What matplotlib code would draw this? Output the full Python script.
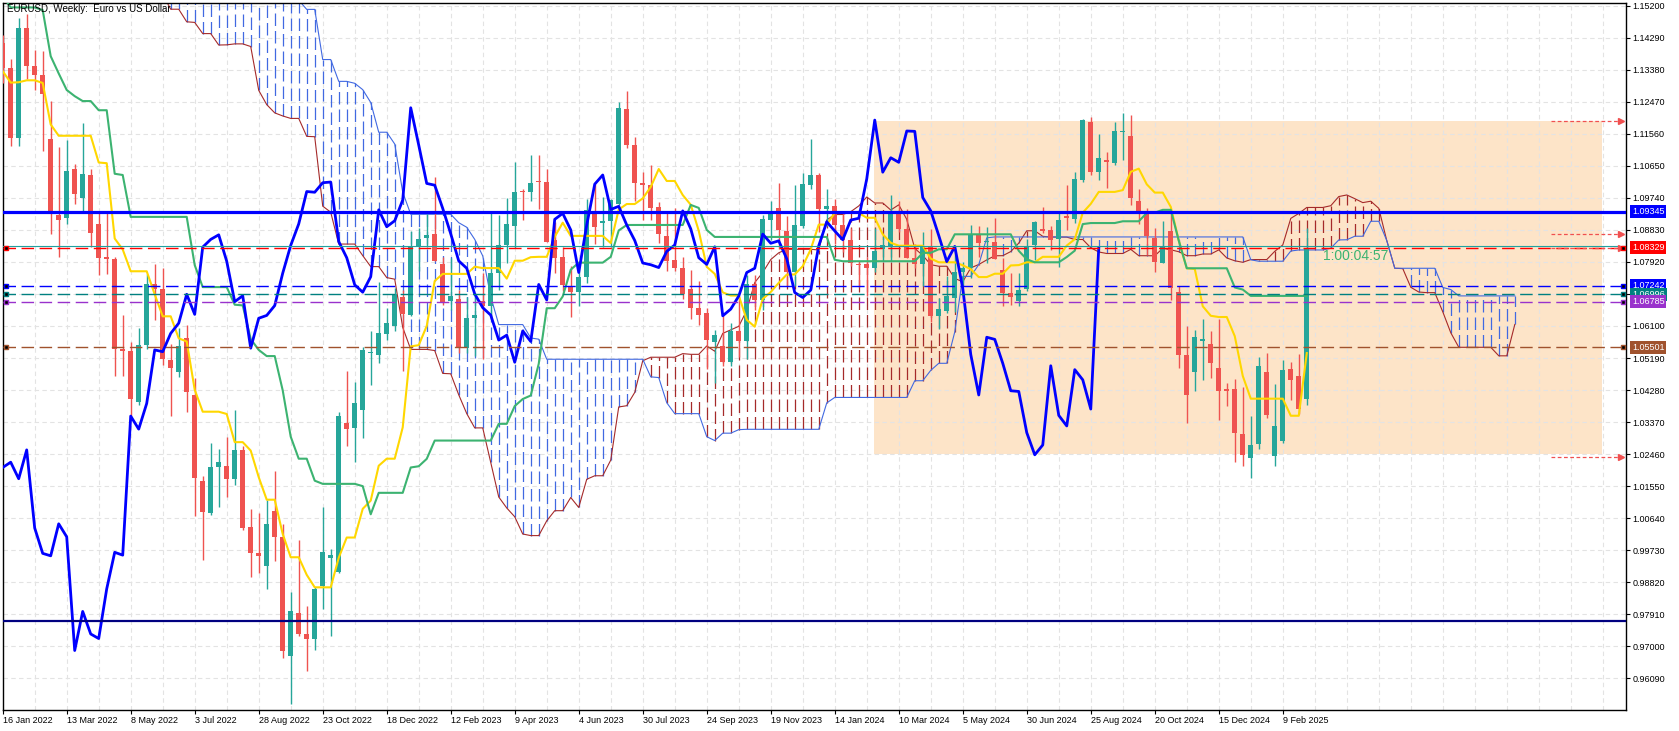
import numpy as np
import matplotlib
matplotlib.use("Agg")
import matplotlib.pyplot as plt
from matplotlib.patches import Rectangle
from matplotlib.transforms import blended_transform_factory

plt.rcParams['font.family'] = ['Liberation Sans', 'DejaVu Sans']

# EURUSD weekly bars, first bar = week of 16 Jan 2022
opens = [
    1.1413, 1.1344, 1.1145, 1.1456, 1.1349, 1.1322, 1.1140, 1.0925, 1.0918, 1.1055,
    1.0975, 1.1038, 1.0900, 1.0805, 1.0799, 1.0544, 1.0539, 1.0395, 1.0557, 1.0730,
    1.0716, 1.0513, 1.0480, 1.0575, 1.0415, 1.0171, 1.0078, 1.0210, 1.0212, 1.0174,
    1.0258, 1.0039, 0.9965, 0.9927, 1.0085, 1.0011, 0.9671, 0.9794, 0.9735, 0.9722,
    0.9871, 0.9952, 0.9910, 1.0334, 1.0320, 1.0372, 1.0532, 1.0528, 1.0587, 1.0611,
    1.0693, 1.0640, 1.0836, 1.0860, 1.0870, 1.0787, 1.0681, 1.0687, 1.0547, 1.0632,
    1.0680, 1.0668, 1.0760, 1.0840, 1.0895, 1.0993, 1.0990, 1.1020, 1.1020, 1.0854,
    1.0805, 1.0721, 1.0706, 1.0750, 1.0930, 1.0902, 1.0909, 1.0958, 1.1226, 1.1124,
    1.1015, 1.1010, 1.0947, 1.0866, 1.0798, 1.0774, 1.0714, 1.0662, 1.0648, 1.0565,
    1.0553, 1.0509, 1.0596, 1.0566, 1.0728, 1.0684, 1.0910, 1.0944, 1.0880, 1.0762,
    1.0894, 1.1010, 1.1039, 1.0941, 1.0950, 1.0897, 1.0853, 1.0785, 1.0785, 1.0776,
    1.0829, 1.0838, 1.0935, 1.0886, 1.0804, 1.0785, 1.0835, 1.0638, 1.0654, 1.0690,
    1.0762, 1.0774, 1.0870, 1.0848, 1.0850, 1.0769, 1.0704, 1.0681, 1.0716, 1.0840,
    1.0886, 1.0883, 1.0857, 1.0922, 1.0914, 1.1025, 1.1189, 1.1047, 1.1082, 1.1072,
    1.1160, 1.1150, 1.0965, 1.0933, 1.0861, 1.0790, 1.0880, 1.0706, 1.0527, 1.0478,
    1.0566, 1.0558, 1.0490, 1.0430, 1.0431, 1.0303, 1.0236, 1.0275, 1.0480, 1.0242,
    1.0283, 1.0488, 1.0468, 1.0403,
]
highs = [
    1.1437, 1.1369, 1.1484, 1.1495, 1.1395, 1.1391, 1.1248, 1.1119, 1.1138, 1.1070,
    1.1186, 1.1055, 1.0930, 1.0930, 1.0805, 1.0640, 1.0565, 1.0604, 1.0757, 1.0787,
    1.0774, 1.0560, 1.0604, 1.0614, 1.0463, 1.0185, 1.0278, 1.0260, 1.0295, 1.0370,
    1.0270, 1.0090, 1.0080, 1.0117, 1.0199, 1.0048, 0.9853, 1.0001, 0.9814, 0.9868,
    1.0095, 0.9977, 1.0367, 1.0482, 1.0451, 1.0550, 1.0597, 1.0736, 1.0660, 1.0717,
    1.0713, 1.0880, 1.0887, 1.0929, 1.1033, 1.0805, 1.0804, 1.0712, 1.0691, 1.0695,
    1.0760, 1.0930, 1.0926, 1.0973, 1.1075, 1.1000, 1.1095, 1.1097, 1.1056, 1.0905,
    1.0835, 1.0780, 1.0788, 1.0971, 1.1012, 1.0977, 1.0970, 1.1247, 1.1278, 1.1148,
    1.1048, 1.1068, 1.0963, 1.0932, 1.0945, 1.0807, 1.0768, 1.0737, 1.0660, 1.0600,
    1.0641, 1.0618, 1.0695, 1.0756, 1.0756, 1.0926, 1.0965, 1.1017, 1.0923, 1.1010,
    1.1044, 1.1140, 1.1046, 1.0998, 1.0970, 1.0932, 1.0888, 1.0795, 1.0806, 1.0888,
    1.0865, 1.0981, 1.0964, 1.0942, 1.0843, 1.0878, 1.0885, 1.0690, 1.0753, 1.0831,
    1.0791, 1.0897, 1.0895, 1.0890, 1.0916, 1.0802, 1.0761, 1.0761, 1.0856, 1.0908,
    1.0947, 1.0895, 1.0930, 1.1011, 1.1047, 1.1198, 1.1204, 1.1155, 1.1105, 1.1189,
    1.1214, 1.1210, 1.0998, 1.0944, 1.0887, 1.0908, 1.0937, 1.0723, 1.0611, 1.0599,
    1.0630, 1.0596, 1.0630, 1.0447, 1.0459, 1.0438, 1.0354, 1.0523, 1.0533, 1.0444,
    1.0513, 1.0509, 1.0530, 1.0889,
]
lows = [
    1.1301, 1.1121, 1.1121, 1.1311, 1.1280, 1.1106, 1.0870, 1.0806, 1.0899, 1.0958,
    1.0938, 1.0834, 1.0754, 1.0759, 1.0469, 1.0469, 1.0345, 1.0386, 1.0545, 1.0627,
    1.0500, 1.0355, 1.0464, 1.0366, 1.0071, 0.9946, 1.0074, 1.0095, 1.0123, 1.0159,
    1.0031, 0.9898, 0.9908, 0.9863, 0.9942, 0.9668, 0.9536, 0.9730, 0.9631, 0.9690,
    0.9807, 0.9730, 0.9908, 1.0268, 1.0224, 1.0291, 1.0443, 1.0505, 1.0571, 1.0597,
    1.0483, 1.0638, 1.0766, 1.0835, 1.0795, 1.0669, 1.0655, 1.0533, 1.0533, 1.0524,
    1.0516, 1.0630, 1.0713, 1.0788, 1.0831, 1.0910, 1.0965, 1.0942, 1.0848, 1.0760,
    1.0710, 1.0635, 1.0667, 1.0732, 1.0844, 1.0834, 1.0834, 1.0955, 1.1115, 1.0966,
    1.0912, 1.0912, 1.0845, 1.0766, 1.0766, 1.0686, 1.0631, 1.0613, 1.0488, 1.0448,
    1.0495, 1.0496, 1.0522, 1.0516, 1.0656, 1.0656, 1.0853, 1.0828, 1.0723, 1.0723,
    1.0888, 1.1000, 1.0877, 1.0895, 1.0844, 1.0821, 1.0780, 1.0722, 1.0695, 1.0762,
    1.0796, 1.0795, 1.0876, 1.0802, 1.0776, 1.0724, 1.0622, 1.0601, 1.0648, 1.0650,
    1.0723, 1.0745, 1.0805, 1.0788, 1.0801, 1.0668, 1.0671, 1.0666, 1.0710, 1.0797,
    1.0874, 1.0825, 1.0778, 1.0882, 1.0904, 1.1020, 1.1039, 1.1026, 1.1001, 1.1067,
    1.1082, 1.0954, 1.0900, 1.0811, 1.0764, 1.0789, 1.0683, 1.0491, 1.0334, 1.0424,
    1.0456, 1.0462, 1.0343, 1.0384, 1.0225, 1.0213, 1.0177, 1.0261, 1.0348, 1.0211,
    1.0278, 1.0400, 1.0359, 1.0386,
]
closes = [
    1.1344, 1.1145, 1.1456, 1.1349, 1.1322, 1.1268, 1.0929, 1.0910, 1.1050, 1.0984,
    1.1042, 1.0875, 1.0803, 1.0799, 1.0544, 1.0540, 1.0402, 1.0556, 1.0730, 1.0716,
    1.0516, 1.0490, 1.0552, 1.0423, 1.0179, 1.0081, 1.0208, 1.0223, 1.0176, 1.0258,
    1.0036, 0.9964, 0.9957, 1.0048, 1.0011, 0.9688, 0.9799, 0.9735, 0.9722, 0.9863,
    0.9967, 0.9959, 1.0354, 1.0317, 1.0390, 1.0542, 1.0537, 1.0589, 1.0618, 1.0700,
    1.0643, 1.0834, 1.0856, 1.0869, 1.0794, 1.0679, 1.0696, 1.0547, 1.0632, 1.0640,
    1.0668, 1.0760, 1.0839, 1.0900, 1.0992, 1.0990, 1.1017, 1.1019, 1.0850, 1.0804,
    1.0727, 1.0706, 1.0750, 1.0940, 1.0892, 1.0909, 1.0968, 1.1230, 1.1124, 1.1015,
    1.1010, 1.0944, 1.0872, 1.0795, 1.0774, 1.0701, 1.0662, 1.0641, 1.0570, 1.0584,
    1.0507, 1.0596, 1.0566, 1.0728, 1.0684, 1.0913, 1.0930, 1.0883, 1.0762, 1.0897,
    1.1013, 1.1039, 1.0941, 1.0950, 1.0897, 1.0853, 1.0789, 1.0784, 1.0776, 1.0822,
    1.0840, 1.0937, 1.0886, 1.0804, 1.0785, 1.0835, 1.0639, 1.0658, 1.0695, 1.0762,
    1.0774, 1.0871, 1.0845, 1.0852, 1.0801, 1.0705, 1.0691, 1.0712, 1.0838, 1.0906,
    1.0880, 1.0855, 1.0911, 1.0916, 1.1028, 1.1195, 1.1047, 1.1088, 1.1075, 1.1164,
    1.1163, 1.0975, 1.0937, 1.0867, 1.0793, 1.0836, 1.0717, 1.0529, 1.0414, 1.0578,
    1.0572, 1.0504, 1.0426, 1.0424, 1.0307, 1.0244, 1.0272, 1.0497, 1.0356, 1.0326,
    1.0486, 1.0457, 1.0374, 1.0833,
]

# 78 earlier weeks (from 19 Jul 2020) needed by the Ichimoku lines
hist_high = [
    1.1660, 1.1909, 1.1916, 1.1866, 1.1966, 1.1927, 1.2011, 1.1917, 1.1882, 1.1872,
    1.1770, 1.1831, 1.1800, 1.1881, 1.1860, 1.1891, 1.1920, 1.1905, 1.1964, 1.2177,
    1.2167, 1.2273, 1.2272, 1.2310,
    1.2349, 1.2223, 1.2190, 1.2189, 1.2150, 1.2169, 1.2145, 1.2243, 1.2113, 1.1990,
    1.1990, 1.1943, 1.1800, 1.1927, 1.1995, 1.2116, 1.2150, 1.2170, 1.2181, 1.2245,
    1.2265, 1.2254, 1.2218, 1.2145, 1.1975, 1.1976, 1.1895, 1.1880, 1.1850, 1.1909,
    1.1900, 1.1805, 1.1802, 1.1808, 1.1909, 1.1883, 1.1849, 1.1755, 1.1720, 1.1640,
    1.1624, 1.1670, 1.1692, 1.1616, 1.1609, 1.1464, 1.1320, 1.1383, 1.1355, 1.1360,
    1.1360, 1.1386, 1.1369, 1.1482,
]
hist_low = [
    1.1410, 1.1630, 1.1696, 1.1711, 1.1753, 1.1762, 1.1780, 1.1753, 1.1737, 1.1612,
    1.1627, 1.1685, 1.1689, 1.1702, 1.1603, 1.1602, 1.1746, 1.1800, 1.1800, 1.1925,
    1.2057, 1.2110, 1.2130, 1.2196,
    1.2195, 1.2055, 1.2054, 1.2058, 1.1952, 1.2013, 1.2023, 1.2066, 1.1893, 1.1835,
    1.1873, 1.1762, 1.1704, 1.1760, 1.1870, 1.1991, 1.2016, 1.1986, 1.2052, 1.2136,
    1.2133, 1.2104, 1.2093, 1.1847, 1.1860, 1.1807, 1.1781, 1.1771, 1.1751, 1.1770,
    1.1753, 1.1705, 1.1664, 1.1690, 1.1793, 1.1801, 1.1700, 1.1683, 1.1563, 1.1529,
    1.1524, 1.1571, 1.1535, 1.1513, 1.1432, 1.1264, 1.1186, 1.1236, 1.1227, 1.1222,
    1.1234, 1.1272, 1.1272, 1.1314,
]

level_prices = [1.09345, 1.08329, 1.07242, 1.06996, 1.06785, 1.05501]
level_colors = ['#0000ff', '#ff0000', '#0000ff', '#008080', '#9932cc', '#a0522d']
ask_price = 1.08365
support_price = 0.97727
target_prices = [1.1193, 1.0871, 1.0832, 1.0237]
box_weeks = [108.9, 199.9]
box_prices = [1.0246, 1.1193]
timer_text = '1:00:04:57'

ytick_values = [1.15200, 1.14290, 1.13380, 1.12470, 1.11560, 1.10650, 1.09740,
                1.08830, 1.07920, 1.07010, 1.06100, 1.05190, 1.04280, 1.03370,
                1.02460, 1.01550, 1.00640, 0.99730, 0.98820, 0.97910, 0.97000, 0.96090]
xtick_labels = ['16 Jan 2022', '13 Mar 2022', '8 May 2022', '3 Jul 2022', '28 Aug 2022',
                '23 Oct 2022', '18 Dec 2022', '12 Feb 2023', '9 Apr 2023', '4 Jun 2023',
                '30 Jul 2023', '24 Sep 2023', '19 Nov 2023', '14 Jan 2024', '10 Mar 2024',
                '5 May 2024', '30 Jun 2024', '25 Aug 2024', '20 Oct 2024', '15 Dec 2024',
                '9 Feb 2025']

# ichimoku (9, 26, 52)
H = np.array(hist_high + highs)
L = np.array(hist_low + lows)
n_hist = len(hist_high)
weeks_all = np.arange(len(H)) - n_hist


def midline(period):
    out = np.full(len(H), np.nan)
    for j in range(period - 1, len(H)):
        out[j] = (H[j - period + 1:j + 1].max() + L[j - period + 1:j + 1].min()) / 2
    return out


tenkan = midline(9)
kijun = midline(26)
span_b = midline(52)
span_a = (tenkan + kijun) / 2
cloud_x = weeks_all + 26

weeks = np.arange(len(closes))
o = np.array(opens)
c = np.array(closes)

fig = plt.figure(figsize=(16.79, 7.31), dpi=100)
ax = fig.add_axes([2.7 / 1679, 21 / 731, 1623.3 / 1679, 707.3 / 731])
ax.set_xlim(0, 202.9)
ax.set_ylim(0.95190, 1.15285)

ax.add_patch(Rectangle((box_weeks[0], box_prices[0]), box_weeks[1] - box_weeks[0],
                       box_prices[1] - box_prices[0], facecolor='#fde4c8',
                       edgecolor='none', zorder=0.5))

# grid
for y in ytick_values:
    ax.axhline(y, color='#e3e3e3', lw=0.8, ls=(0, (4, 3)), zorder=1)
for x in range(4, 203, 4):
    ax.axvline(x, color='#e3e3e3', lw=0.8, ls=(0, (4, 3)), zorder=1)

# cloud
ok = ~np.isnan(span_b)
cx = cloud_x[ok]
sa = span_a[ok]
sb = span_b[ok]
hatch_cols = np.where(sb > sa, '#4169e1', '#a52a2a')
ax.vlines(cx, np.minimum(sa, sb), np.maximum(sa, sb), colors=hatch_cols,
          lw=0.9, linestyles=(0, (10, 4)), zorder=2)
ax.plot(cx, sa, color='#a52a2a', lw=0.8, zorder=2.5)
ax.plot(cx, sb, color='#4169e1', lw=0.8, zorder=2.5)

# candles
bull = c >= o
cols = np.where(bull, '#26a69a', '#ef5350')
ax.vlines(weeks, lows, highs, colors=cols, lw=1.0, zorder=3)
body = np.maximum(np.abs(c - o), 0.00025)
ax.bar(weeks, body, bottom=np.minimum(o, c), width=0.66, color=cols, zorder=3.1)

# tenkan / kijun / chikou
ax.plot(weeks_all, tenkan, color='#ffd700', lw=1.5, zorder=4)
ax.plot(weeks_all, kijun, color='#3cb371', lw=1.5, zorder=4)
ax.plot(weeks[:-26], c[26:], color='#0000ff', lw=2.0, zorder=4.5)

# horizontal levels
ax.axhline(support_price, color='#000080', lw=1.6, zorder=5)
ax.axhline(ask_price, color='#20a0a0', lw=0.8, zorder=5)
for i, (p, col) in enumerate(zip(level_prices, level_colors)):
    if i == 0:
        ax.axhline(p, color=col, lw=2.3, zorder=5)
    else:
        ax.axhline(p, color=col, lw=1.0, ls=(0, (9, 4)), zorder=5)
        ax.plot([0.35, 202.5], [p, p], ls='none', marker='s', ms=3.5,
                mfc='black', mec=col, mew=1.0, zorder=6, clip_on=False)

for p in target_prices:
    ax.plot([193.5, 202.3], [p, p], color='#f05050', lw=0.9, ls=(0, (3, 2)), zorder=5)
    ax.plot([202.3], [p], color='#f05050', marker='>', ms=4, ls='none', zorder=5)

ax.text(165.0, 1.08089, timer_text, color='#3cb371', fontsize=10,
        ha='left', va='center', zorder=7)
ax.text(0.0025, 0.9904, 'EURUSD, Weekly:  Euro vs US Dollar', transform=ax.transAxes,
        fontsize=7, ha='left', va='center', zorder=7)

# axes styling
for s in ax.spines.values():
    s.set_color('black')
    s.set_linewidth(1.0)
ax.yaxis.tick_right()
ax.set_yticks(ytick_values)
ax.set_yticklabels(['%.5f' % v for v in ytick_values])
ax.set_xticks(np.arange(0, 161, 8))
ax.set_xticklabels(xtick_labels)
for lbl in ax.get_xticklabels():
    lbl.set_ha('left')
ax.tick_params(axis='both', labelsize=6.5, length=3, width=0.8, pad=1.5, colors='black')

trans = blended_transform_factory(ax.transAxes, ax.transData)
for p, col in zip(level_prices, level_colors):
    ax.text(1.0036, p, '%.5f' % p, transform=trans, color='white', fontsize=6.5,
            ha='left', va='center', zorder=8, clip_on=False,
            bbox=dict(boxstyle='square,pad=0.22', facecolor=col, edgecolor='none'))

fig.savefig('out.png', dpi=100)
